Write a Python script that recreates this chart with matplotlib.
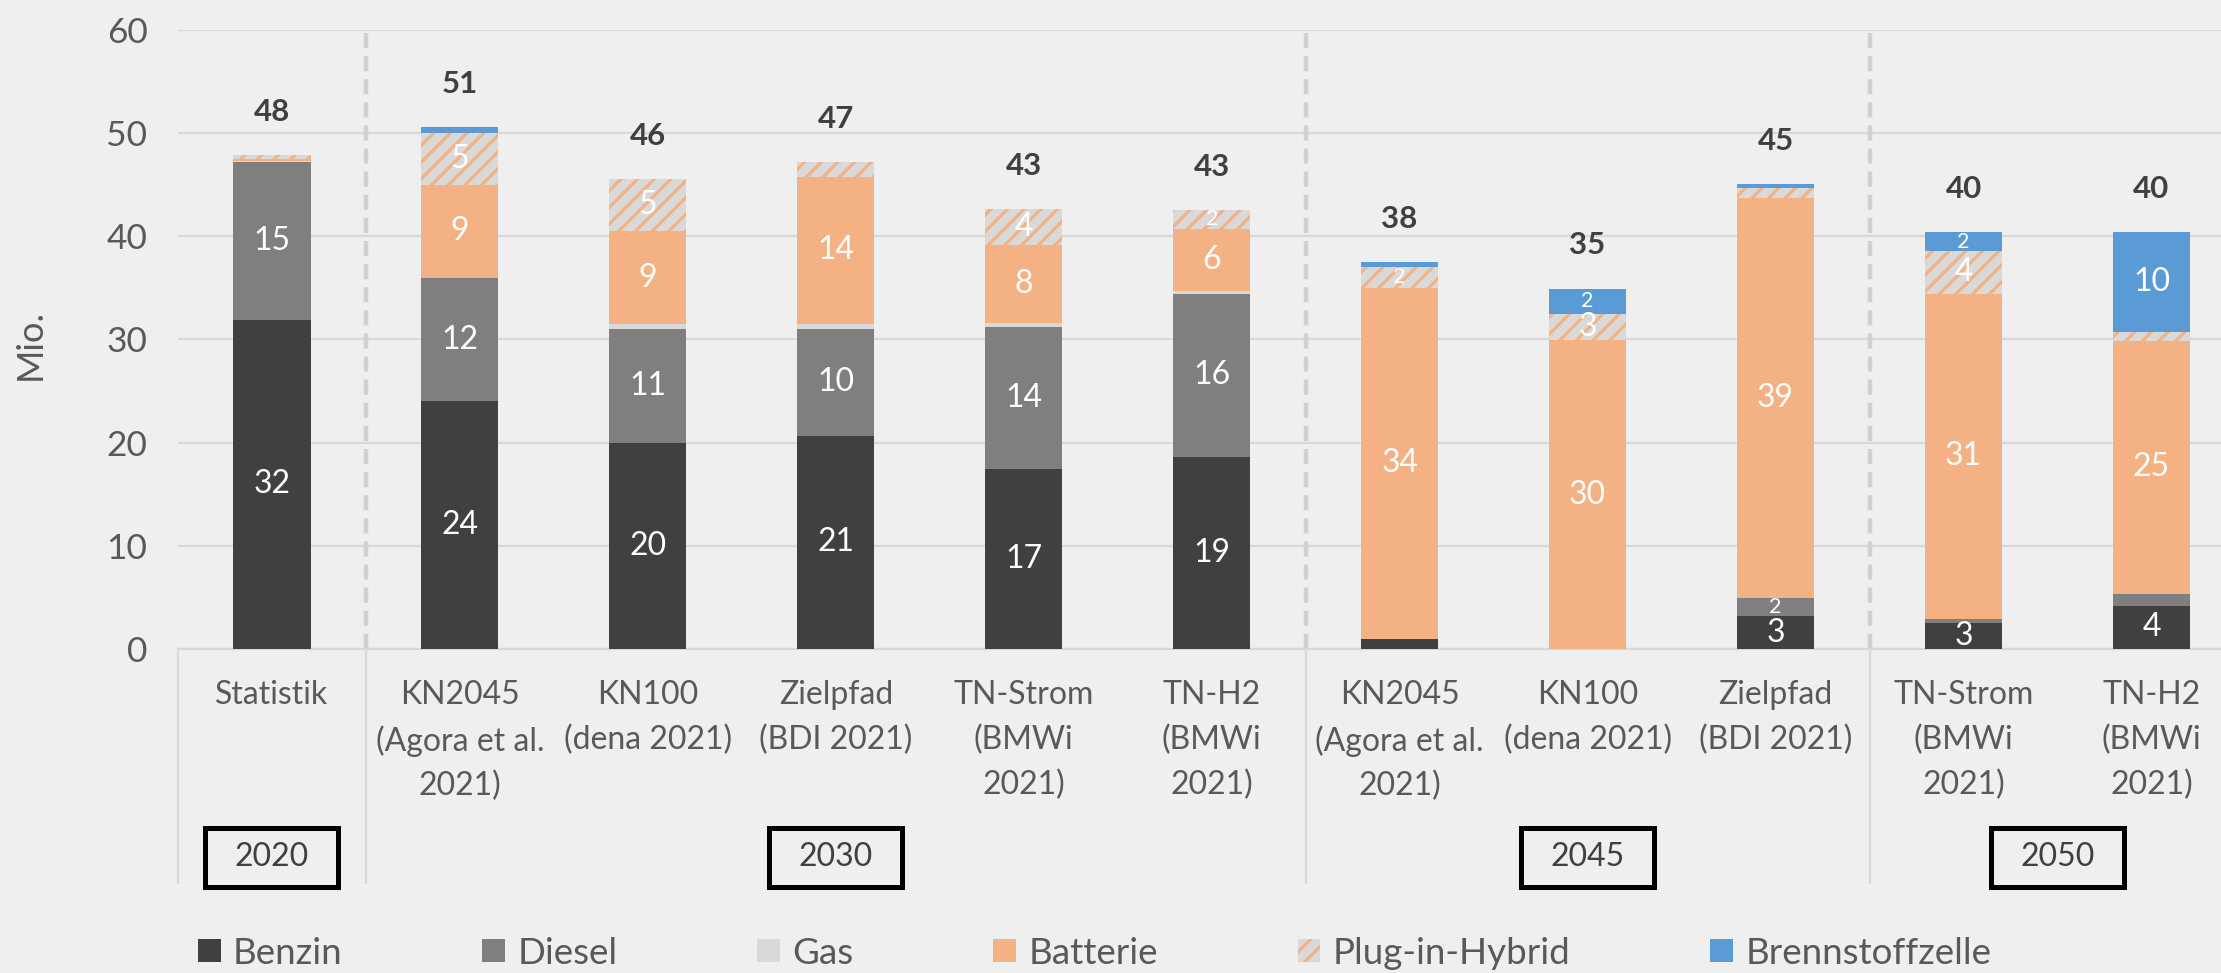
import matplotlib
matplotlib.use("Agg")
import matplotlib.pyplot as plt
import matplotlib.transforms as mtransforms
from matplotlib.patches import Rectangle
import numpy as np

plt.rcParams['font.family'] = ['Lato', 'DejaVu Sans']
plt.rcParams['hatch.linewidth'] = 2.3

# ---- Daten: Pkw-Bestand nach Antrieb (Mio.) ----
categories = [
    "Statistik",
    "KN2045\n(Agora et al.\n2021)", "KN100\n(dena 2021)", "Zielpfad\n(BDI 2021)",
    "TN-Strom\n(BMWi\n2021)", "TN-H2\n(BMWi\n2021)",
    "KN2045\n(Agora et al.\n2021)", "KN100\n(dena 2021)", "Zielpfad\n(BDI 2021)",
    "TN-Strom\n(BMWi\n2021)", "TN-H2\n(BMWi\n2021)",
]
benzin = [31.9, 24.03, 20.0, 20.67, 17.4, 18.6, 0.97, 0.0, 3.16, 2.55, 4.19]
diesel = [15.26, 11.91, 10.97, 10.33, 13.8, 15.85, 0.0, 0.0, 1.77, 0.4, 1.16]
gas = [0.1, 0.05, 0.51, 0.5, 0.37, 0.28, 0.0, 0.0, 0.0, 0.0, 0.0]
batterie = [0.2, 9.0, 9.0, 14.27, 7.58, 6.0, 34.06, 29.94, 38.77, 31.48, 24.55]
phev = [0.4, 5.03, 5.05, 1.4, 3.52, 1.85, 2.0, 2.58, 0.95, 4.13, 0.87]
bz = [0.0, 0.53, 0.0, 0.0, 0.0, 0.0, 0.49, 2.42, 0.45, 1.84, 9.68]

years = ["2020", "2030", "2045", "2050"]
year_pos = [0, 3, 7, 9.5]          # Mitte der jeweiligen Gruppe
group_edges = [0.5, 5.5, 8.5]

series = [
    ("Benzin", benzin, dict(color="#404040")),
    ("Diesel", diesel, dict(color="#7f7f7f")),
    ("Gas", gas, dict(color="#d9d9d9")),
    ("Batterie", batterie, dict(color="#f4b183")),
    ("Plug-in-Hybrid", phev, dict(facecolor="#d9d9d9", edgecolor="#f4b183", hatch="//")),
    ("Brennstoffzelle", bz, dict(color="#5b9bd5")),
]

BG = "#efefef"
TXT = "#595959"
W, H = 2221, 973

fig = plt.figure(figsize=(W / 100, H / 100), dpi=100, facecolor=BG)
ax = fig.add_axes([178 / W, (H - 649) / H, (W - 178) / W, 619 / H])
ax.set_facecolor(BG)

x = np.arange(len(categories))
bottom = np.zeros(len(categories))
handles = []
for name, vals, style in series:
    vals = np.asarray(vals)
    bars = ax.bar(x, vals, 0.41, bottom=bottom, linewidth=0, label=name, zorder=3, **style)
    handles.append(bars)
    for xi, v, b in zip(x, vals, bottom):
        if round(v) >= 2:
            ax.text(xi, b + v / 2, f"{v:.0f}", ha="center", va="center", color="white",
                    fontsize=15.5 if v < 2.5 else 23, zorder=4)
    bottom += vals

for xi, t in zip(x, bottom):
    ax.annotate(f"{t:.0f}", (xi, t), xytext=(0, 21), textcoords="offset points",
                ha="center", va="bottom", fontsize=22.5, fontweight="bold", color="#404040")

ax.set_xlim(-0.5, 10.37)
ax.set_ylim(0, 60)
ax.set_yticks(range(0, 61, 10))
ax.yaxis.grid(True, color="#d9d9d9", linewidth=1.6, zorder=0)
ax.set_axisbelow(True)
for s in ["top", "right", "left"]:
    ax.spines[s].set_visible(False)
ax.spines["bottom"].set_color("#d9d9d9")
ax.spines["bottom"].set_linewidth(1.6)
ax.tick_params(axis="y", length=0, pad=22, labelsize=25.5, labelcolor=TXT)
ax.set_xticks(x)
ax.set_xticklabels(categories, fontsize=23, color=TXT, linespacing=1.6)
ax.tick_params(axis="x", length=0, pad=22)

fig.text(30 / W, 1 - 345 / H, "Mio.", rotation=90, ha="center", va="center",
         fontsize=26, color=TXT)

# gestrichelte Trennlinien zwischen den Jahresgruppen
ax.vlines(group_edges, 0, 60, colors="#d0d0d0", linewidth=3.2,
          linestyles=[(0, (3.4, 1.8))], zorder=2)

# Trennlinien und Jahresboxen unterhalb der Achse
trans = mtransforms.blended_transform_factory(ax.transData, fig.transFigure)
y_base = 1 - 649 / H
for xe in [-0.5] + group_edges:
    ax.plot([xe, xe], [y_base, 1 - 883 / H], transform=trans, color="#d9d9d9",
            linewidth=1.6, clip_on=False)

box_w = 133 / 188
box_bot, box_top = 1 - 887 / H, 1 - 828 / H
for label, xp in zip(years, year_pos):
    ax.add_patch(Rectangle((xp - box_w / 2, box_bot), box_w, box_top - box_bot,
                           transform=trans, facecolor=BG, edgecolor="black",
                           linewidth=3.6, clip_on=False))
    ax.text(xp, (box_bot + box_top) / 2, label, transform=trans, ha="center",
            va="center", fontsize=23, color="#404040")

fig.legend(handles=handles, labels=[s[0] for s in series], ncol=6, loc="center left",
           bbox_to_anchor=(198 / W, 20 / H), frameon=False, fontsize=26.5,
           labelcolor=TXT, handlelength=0.62, handleheight=0.62, handletextpad=0.33,
           columnspacing=3.8, borderpad=0, borderaxespad=0)

fig.savefig("out.png", dpi=100, facecolor=BG)
